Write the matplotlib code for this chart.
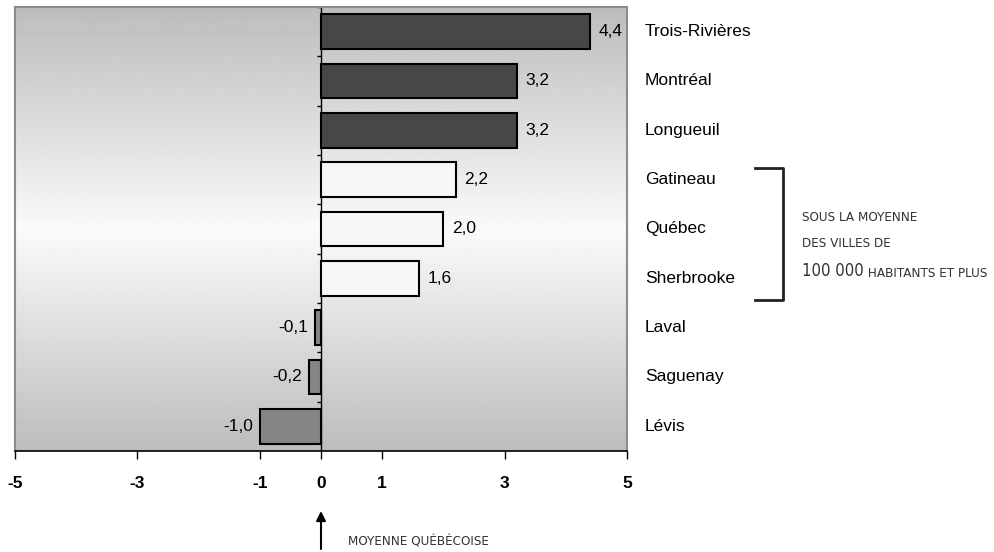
import numpy as np
import matplotlib
matplotlib.use("Agg")
import matplotlib.pyplot as plt
import matplotlib.transforms as mtransforms
from matplotlib.lines import Line2D
from matplotlib import font_manager

plt.rcParams['font.family'] = ['Liberation Sans', 'DejaVu Sans']

cities = ["Trois-Rivières", "Montréal", "Longueuil", "Gatineau", "Québec",
          "Sherbrooke", "Laval", "Saguenay", "Lévis"]
values = [4.4, 3.2, 3.2, 2.2, 2.0, 1.6, -0.1, -0.2, -1.0]
groups = ["above", "above", "above", "below", "below", "below", "neg", "neg", "neg"]
xticks = [-5, -3, -1, 0, 1, 3, 5]

colors = {"above": "#474747", "below": "#f7f7f7", "neg": "#858585"}
note_color = "#333333"

# condensed face for the notes, if the system has one
cond = [f.fname for f in font_manager.fontManager.ttflist
        if f.name == "DejaVu Sans" and f.stretch == "condensed" and f.weight == 400
        and f.style == "normal"]
if cond:
    note_kw = dict(fontproperties=font_manager.FontProperties(fname=cond[0]))
    small, big = 9.6, 12
else:
    note_kw = dict(family=['Liberation Sans', 'DejaVu Sans'])
    small, big = 8.5, 11

fig = plt.figure(figsize=(9.95, 5.52), dpi=100)
ax = fig.add_axes([15 / 995, 1 - 451 / 552, 612 / 995, 444 / 552])

n = len(cities)
ypos = np.arange(n)

# gradient background: grey at top and bottom, near white in the middle
grad = np.concatenate([np.linspace(0.74, 0.98, 100), np.linspace(0.98, 0.74, 100)])
ax.imshow(grad.reshape(-1, 1), cmap="gray", vmin=0, vmax=1, aspect="auto",
          extent=(-5, 5, n - 0.5, -0.5), zorder=0, interpolation="bilinear")

ax.barh(ypos, values, height=0.7, color=[colors[g] for g in groups],
        edgecolor="black", linewidth=1.5, zorder=3)

for y, v in zip(ypos, values):
    label = f"{v:.1f}".replace(".", ",")
    if v >= 0:
        ax.annotate(label, xy=(v, y), xytext=(6, 0), textcoords="offset points",
                    ha="left", va="center", fontsize=12.5, zorder=4)
    else:
        ax.annotate(label, xy=(v, y), xytext=(-5, 0), textcoords="offset points",
                    ha="right", va="center", fontsize=12.5, zorder=4)

ax.set_xlim(-5, 5)
ax.set_ylim(n - 0.5, -0.5)

# vertical axis at zero with small ticks between categories
ax.axvline(0, color="black", linewidth=1, zorder=2)
ax.hlines(np.arange(-0.5, n - 0.5), -0.07, 0, color="black", linewidth=1, zorder=2)

ax.set_yticks([])
ax.set_xticks(xticks)
ax.set_xticklabels([str(t) for t in xticks], fontsize=12.5, fontweight="bold")
ax.tick_params(axis="x", direction="out", length=6, width=1, pad=12)

for side in ["left", "top", "right"]:
    ax.spines[side].set_color("#8c8c8c")
    ax.spines[side].set_linewidth(1.5)
ax.spines["bottom"].set_color("black")
ax.spines["bottom"].set_linewidth(1.2)

trans = mtransforms.blended_transform_factory(ax.transAxes, ax.transData)
for y, name in zip(ypos, cities):
    ax.text(1.029, y, name, transform=trans, ha="left", va="center", fontsize=12.5)

# bracket for cities below the average of big cities
fig.add_artist(Line2D([755 / 995, 783 / 995, 783 / 995, 755 / 995],
                      [1 - 168 / 552, 1 - 168 / 552, 1 - 300 / 552, 1 - 300 / 552],
                      color="#222222", linewidth=2))
fig.text(802 / 995, 1 - 217 / 552, "SOUS LA MOYENNE", fontsize=small, color=note_color,
         va="center", ha="left", **note_kw)
fig.text(802 / 995, 1 - 243 / 552, "DES VILLES DE", fontsize=small, color=note_color,
         va="center", ha="left", **note_kw)
t100 = fig.text(802 / 995, 1 - 280 / 552, "100 000", fontsize=big, color=note_color,
                va="bottom", ha="left", **note_kw)
ax.annotate(" HABITANTS ET PLUS", xy=(1, 0), xycoords=t100, va="bottom", ha="left",
            fontsize=small, color=note_color, annotation_clip=False, **note_kw)

# arrow pointing at zero
ax.annotate("", xy=(0, 1 - 511 / 552), xycoords=("data", "figure fraction"),
            xytext=(0, 1 - 549 / 552), textcoords=("data", "figure fraction"),
            arrowprops=dict(arrowstyle="-|>", color="black", lw=1.5,
                            mutation_scale=14, shrinkA=0, shrinkB=0),
            annotation_clip=False)
fig.text(348 / 995, 1 - 542 / 552, "MOYENNE QUÉBÉCOISE", fontsize=small, color=note_color,
         va="center", ha="left", **note_kw)

fig.savefig("out.png", dpi=100, facecolor="white")
